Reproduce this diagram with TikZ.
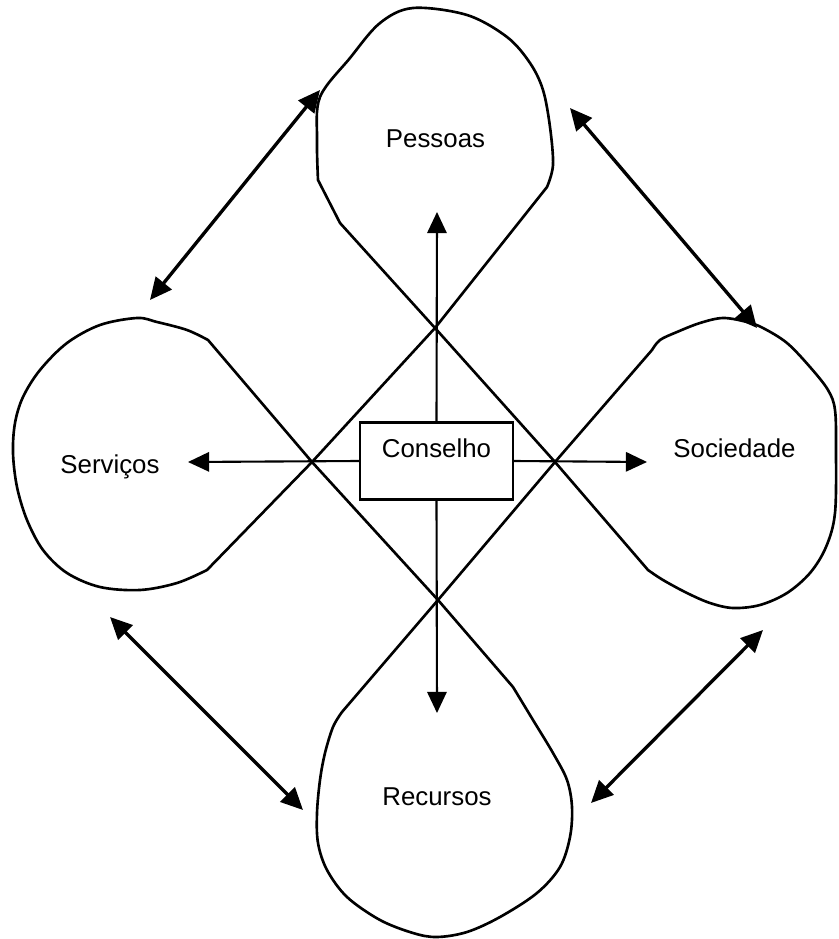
\documentclass[tikz,border=0pt]{standalone}
\usepackage{fontspec}
\setmainfont{Liberation Sans}
\usetikzlibrary{arrows.meta}
\begin{document}
\begin{tikzpicture}[x=0.02cm,y=-0.02cm,
  lobe/.style={line width=1.5pt, line join=round},
  edge/.style={line width=1.5pt},
  spoke/.style={line width=1.2pt, -{Triangle[length=12pt,width=11pt]}},
  link/.style={line width=1.9pt,
    {Triangle[length=12.5pt,width=11.5pt]}-{Triangle[length=12.5pt,width=11.5pt]}},
  lbl/.style={font=\fontsize{14.7}{17}\selectfont, inner sep=0pt},
  box/.style={draw, line width=1.2pt, minimum width=3.06cm, minimum height=1.54cm, inner sep=0pt}]
\useasboundingbox (0,0) rectangle (838,939);

% crossing points of the four loops
\coordinate (ctop) at (435,328);
\coordinate (cright) at (555,462);
\coordinate (cbottom) at (438,600);
\coordinate (cleft) at (312,462);

% Pessoas loop (top)
\draw[lobe] (ctop) -- (340,223) -- plot[smooth, tension=0.55] coordinates {
  (318,180) (317,140) (320,97) (350,58) (380,23) (413,8) (467,15) (507,37)
  (530,63) (543,90) (550,127) (553,165) (547,187)} -- cycle;

% Servicos loop (left)
\draw[lobe] (cleft) -- plot[smooth, tension=0.55] coordinates {
  (208,340) (187,330) (157,322) (137,318) (100,325) (67,343) (40,370)
  (23,397) (15,423) (13,453) (17,487) (27,520) (43,550) (67,573) (100,587)
  (140,590) (177,583) (207,570)} -- cycle;

% Sociedade loop (right)
\draw[lobe] (cright) -- plot[smooth, tension=0.55] coordinates {
  (652,350) (660,340) (677,332) (700,323) (723,318) (747,322) (763,328)
  (787,343) (810,367) (828,390) (835,410) (836,450) (835,513) (826,547)
  (810,573) (787,593) (760,605) (733,608) (710,603) (687,593) (663,580)
  (648,570)} -- cycle;

% Recursos loop (bottom)
\draw[lobe] (cbottom) -- plot[smooth, tension=0.55] coordinates {
  (342,712) (333,727) (325,753) (320,780) (317,813) (318,843) (327,870)
  (347,897) (380,920) (413,933) (437,937) (467,932) (500,917) (537,893)
  (560,867) (570,837) (572,807) (567,780) (553,753) (533,720) (513,687)} -- cycle;

% the inner diamond joining the loop tips
\draw[edge] (ctop) -- (cright) -- (cbottom) -- (cleft) -- cycle;

% labels
\node[lbl] (pessoas) at (435.5,139) {Pessoas};
\node[lbl] (servicos) at (110,467) {Serviços};
\node[lbl] (sociedade) at (734.5,448) {Sociedade};
\node[lbl] (recursos) at (437,796.5) {Recursos};

% central box
\node[box, fill=white] (conselho) at (436.5,461) {};
\node[lbl] (conselholbl) at (436.5,448) {Conselho};

% spoke tips
\coordinate (tipup) at (437,212);
\coordinate (tipdown) at (437,713);
\coordinate (tipleft) at (188,462);
\coordinate (tipright) at (647,462);

\draw[spoke] (conselho.north) -- (tipup);
\draw[spoke] (conselho.south) -- (tipdown);
\draw[spoke] (conselho.west) -- (tipleft);
\draw[spoke] (conselho.east) -- (tipright);

% links between neighbouring loops
\coordinate (tlA) at (150,300);
\coordinate (tlB) at (320,90);
\coordinate (trA) at (570,108);
\coordinate (trB) at (757,328);
\coordinate (blA) at (110,617);
\coordinate (blB) at (303,810);
\coordinate (brA) at (763,630);
\coordinate (brB) at (591,803);

\draw[link] (tlA) -- (tlB);
\draw[link] (trA) -- (trB);
\draw[link] (blA) -- (blB);
\draw[link] (brA) -- (brB);
\end{tikzpicture}
\end{document}
